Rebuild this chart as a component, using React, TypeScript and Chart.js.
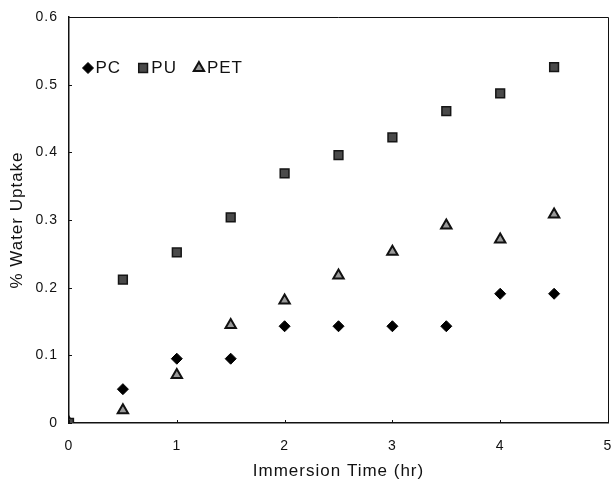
import React, { useEffect, useRef } from 'react';
import { Chart, registerables } from 'chart.js';
import { drawPoint } from 'chart.js/helpers';

Chart.register(...registerables);

const times = [0, 0.5, 1, 1.5, 2, 2.5, 3, 3.5, 4, 4.5];
const pcUptake = [0, 0.05, 0.095, 0.095, 0.143, 0.143, 0.143, 0.143, 0.191, 0.191];
const puUptake = [0, 0.212, 0.252, 0.304, 0.369, 0.396, 0.422, 0.461, 0.487, 0.526];
const petUptake = [0, 0.019, 0.071, 0.145, 0.181, 0.218, 0.253, 0.292, 0.271, 0.308];
const seriesNames = ['PC', 'PU', 'PET'];
const xTicks = [0, 1, 2, 3, 4, 5];
const yTicks = [0, 0.1, 0.2, 0.3, 0.4, 0.5, 0.6];

const FONT = '"Liberation Sans", Arial, sans-serif';
const INK = '#111111';

const toPoints = (ys: number[]) => times.map((t, i) => ({ x: t, y: ys[i] }));

const spacingPlugin = {
  id: 'spacing',
  beforeDraw(chart: any) {
    (chart.ctx as any).letterSpacing = '1px';
  },
};

const framePlugin = {
  id: 'frame',
  afterDraw(chart: any) {
    const { ctx, chartArea } = chart;
    const { left, right, top, bottom } = chartArea;
    ctx.save();
    ctx.strokeStyle = INK;
    ctx.lineWidth = 1;
    ctx.beginPath();
    ctx.moveTo(left, top + 0.5);
    ctx.lineTo(right + 0.5, top + 0.5);
    ctx.lineTo(right + 0.5, bottom);
    ctx.stroke();
    const xs = chart.scales.x;
    const ys = chart.scales.y;
    ctx.beginPath();
    xs.ticks.forEach((t: any) => {
      const px = Math.round(xs.getPixelForValue(t.value)) + 0.5;
      ctx.moveTo(px, bottom);
      ctx.lineTo(px, bottom - 3);
    });
    ys.ticks.forEach((t: any) => {
      const py = Math.round(ys.getPixelForValue(t.value)) + 0.5;
      ctx.moveTo(left, py);
      ctx.lineTo(left + 3, py);
    });
    ctx.stroke();
    ctx.restore();
  },
};

const legendPlugin = {
  id: 'insetLegend',
  afterDatasetsDraw(chart: any) {
    const { ctx, chartArea } = chart;
    ctx.save();
    ctx.font = '17px ' + FONT;
    ctx.textBaseline = 'middle';
    ctx.textAlign = 'left';
    let x = chartArea.left + 19;
    const y = chartArea.top + 51;
    chart.data.datasets.forEach((ds: any) => {
      ctx.fillStyle = ds.pointBackgroundColor;
      ctx.strokeStyle = ds.pointBorderColor;
      ctx.lineWidth = ds.pointBorderWidth;
      drawPoint(
        ctx,
        { pointStyle: ds.pointStyle, rotation: 0, radius: ds.pointRadius, borderWidth: ds.pointBorderWidth },
        x,
        y
      );
      const tx = x + ds.pointRadius + 2;
      ctx.fillStyle = INK;
      ctx.fillText(ds.label, tx, y);
      const w = ctx.measureText(ds.label).width;
      x = tx + w + 22;
    });
    ctx.restore();
  },
};

export default function App() {
  const ref = useRef<HTMLCanvasElement | null>(null);

  useEffect(() => {
    if (!ref.current) return;
    const chart = new Chart(ref.current, {
      type: 'scatter',
      data: {
        datasets: [
          {
            label: seriesNames[0],
            data: toPoints(pcUptake),
            pointStyle: 'rectRot',
            pointRadius: 5.5,
            pointBackgroundColor: '#000000',
            pointBorderColor: '#000000',
            pointBorderWidth: 1,
            order: 1,
          },
          {
            label: seriesNames[1],
            data: toPoints(puUptake),
            pointStyle: 'rect',
            pointRadius: 6.2,
            pointBackgroundColor: '#4a4a4a',
            pointBorderColor: '#151515',
            pointBorderWidth: 1.5,
            order: 0,
          },
          {
            label: seriesNames[2],
            data: toPoints(petUptake),
            pointStyle: 'triangle',
            pointRadius: 6,
            pointBackgroundColor: '#999999',
            pointBorderColor: '#111111',
            pointBorderWidth: 2,
            order: 1,
          },
        ] as any,
      },
      options: {
        animation: false,
        responsive: false,
        events: [],
        layout: { autoPadding: false, padding: { top: 17, right: 5, left: 0, bottom: 0 } },
        plugins: {
          legend: { display: false },
          tooltip: { enabled: false },
        },
        scales: {
          x: {
            type: 'linear',
            min: 0,
            max: 5,
            afterBuildTicks: (s: any) => {
              s.ticks = xTicks.map((v) => ({ value: v }));
            },
            afterFit: (s: any) => {
              s.height = 59;
              s.paddingRight = 0;
            },
            grid: { display: false, drawTicks: false },
            border: { display: true, color: INK, width: 1.5 },
            ticks: {
              color: INK,
              font: { family: FONT, size: 14 },
              padding: 15,
              maxRotation: 0,
              callback: (v: any) => String(v),
            },
            title: {
              display: true,
              text: 'Immersion Time (hr)',
              color: INK,
              font: { family: FONT, size: 17 },
              padding: { top: 2, bottom: 0 },
            },
          },
          y: {
            type: 'linear',
            min: 0,
            max: 0.6,
            afterBuildTicks: (s: any) => {
              s.ticks = yTicks.map((v) => ({ value: v }));
            },
            afterFit: (s: any) => {
              s.width = 69;
              s.paddingTop = 0;
            },
            grid: { display: false, drawTicks: false },
            border: { display: true, color: INK, width: 1.5 },
            ticks: {
              color: INK,
              font: { family: FONT, size: 14 },
              padding: 11,
              callback: (v: any) => (v === 0 ? '0' : Number(v).toFixed(1)),
            },
            title: {
              display: true,
              text: '% Water Uptake',
              color: INK,
              font: { family: FONT, size: 17 },
              padding: { top: 7, bottom: 4 },
            },
          },
        },
      },
      plugins: [spacingPlugin, framePlugin, legendPlugin],
    });
    return () => chart.destroy();
  }, []);

  return (
    <div style={{ position: 'fixed', left: 0, top: 0, width: 613, height: 482, background: '#ffffff' }}>
      <canvas ref={ref} width={613} height={482} style={{ display: 'block' }} />
    </div>
  );
}
